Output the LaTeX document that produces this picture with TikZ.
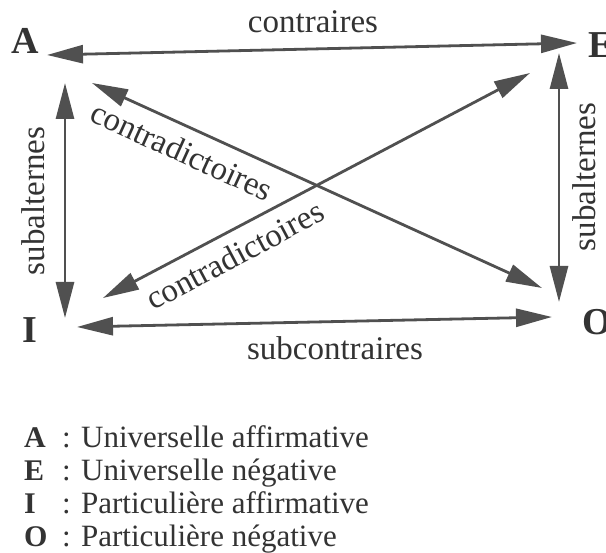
\documentclass[tikz,border=0pt]{standalone}
\usepackage{fontspec}
\setmainfont{Liberation Serif}
\usetikzlibrary{arrows.meta}
\definecolor{ink}{HTML}{333333}
\definecolor{arr}{HTML}{505050}
\begin{document}
\begin{tikzpicture}[x=1pt,y=-1pt,
  corner/.style={inner sep=0pt,text=ink,font=\bfseries\fontsize{38}{40}\selectfont},
  lab/.style={inner sep=0pt,text=ink,font=\fontsize{33}{35}\selectfont},
  leg/.style={inner sep=0pt,text=ink,anchor=base west,font=\fontsize{31}{33}\selectfont},
  legl/.style={inner sep=0pt,text=ink,anchor=base west,font=\bfseries\fontsize{30}{33}\selectfont},
  rel/.style={draw=arr,line width=2.8pt,
    {Triangle[length=36pt,width=18pt]}-{Triangle[length=36pt,width=18pt]}}]
\useasboundingbox (0,0) rectangle (606,553);
\fill[white] (0,0) rectangle (606,553);
% corner letters
\node[corner] (A) at (25,41) {A};
\node[corner] (E) at (601,45) {E};
\node[corner] (I) at (30,330) {I};
\node[corner] (O) at (597,322) {O};
% arrow end points
\coordinate (AE1) at (47,55);  \coordinate (AE2) at (577,43);
\coordinate (IO1) at (77,327); \coordinate (IO2) at (552,317);
\coordinate (AI1) at (65,83);  \coordinate (AI2) at (65,318);
\coordinate (EO1) at (559,53); \coordinate (EO2) at (559,302);
\coordinate (AO1) at (92,83);  \coordinate (AO2) at (542,288);
\coordinate (IE1) at (103,298);\coordinate (IE2) at (530,73);
\draw[rel] (AE1) -- (AE2);
\draw[rel] (IO1) -- (IO2);
\draw[rel] (AI1) -- (AI2);
\draw[rel] (EO1) -- (EO2);
\draw[rel] (AO1) -- (AO2);
\draw[rel] (IE1) -- (IE2);
% labels
\node[lab,anchor=base] (lc) at (313,33) {contraires};
\node[lab,anchor=base] (lsc) at (335,360) {subcontraires};
\node[lab,anchor=base,rotate=90] (ls1) at (44,201) {subalternes};
\node[lab,anchor=base,rotate=90] (ls2) at (595,177) {subalternes};
\node[lab,rotate=-24.5] (lcd1) at (182,151) {contradictoires};
\node[lab,rotate=28] (lcd2) at (235,255) {contradictoires};
% legend
\node[legl] (kA) at (24,448) {A};
\node[leg] (dA) at (62,448) {: Universelle affirmative};
\node[legl] (kE) at (24,481) {E};
\node[leg] (dE) at (62,481) {: Universelle négative};
\node[legl] (kI) at (24,514) {I};
\node[leg] (dI) at (62,514) {: Particulière affirmative};
\node[legl] (kO) at (24,547) {O};
\node[leg] (dO) at (62,547) {: Particulière négative};
\end{tikzpicture}
\end{document}
